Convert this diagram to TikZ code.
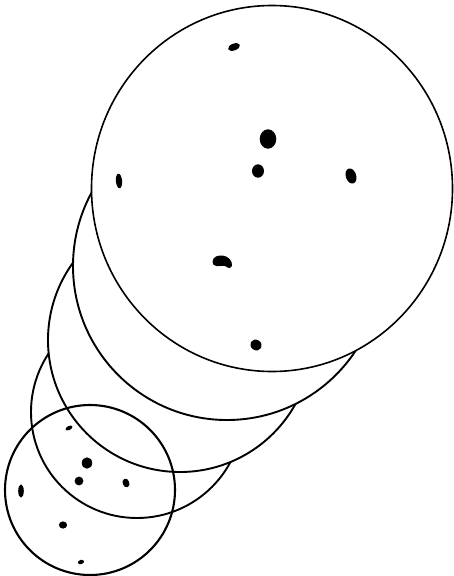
\documentclass[tikz,border=0pt]{standalone}
\begin{document}
\begin{tikzpicture}[x=1pt,y=-1pt,
  ring/.style={draw=black,fill=white,line width=1.9pt},
  spot/.style={fill=black}]
\useasboundingbox (0,0) rectangle (453,576);
% receding rings, back to front
\draw[ring] (137,412) circle[radius=106];
\draw[ring] (180,340) circle[radius=132];
\draw[ring] (227,266) circle[radius=154];
\draw[ring,line width=1.6pt] (272,188.5) ellipse[x radius=180.5,y radius=183];
% spots on the large disc
\fill[spot] (234,47) ellipse[x radius=6.2,y radius=3.4,rotate=20];
\fill[spot] (268,139) ellipse[x radius=8.3,y radius=9.7];
\fill[spot] (258,171) ellipse[x radius=6,y radius=6.7];
\fill[spot] (351,176) ellipse[x radius=5.2,y radius=7.8,rotate=18];
\fill[spot] (119,181) ellipse[x radius=3.1,y radius=7.3,rotate=5];
\fill[spot] (212.5,262) .. controls (212.5,256.5) and (218.5,255) .. (223,255.5)
  .. controls (228.5,256.5) and (232.5,261) .. (232,265.5)
  .. controls (231.5,268.5) and (228,268.5) .. (226,266.5)
  .. controls (223.5,264.8) and (219.5,266.5) .. (216.5,266)
  .. controls (214,265.8) and (212.5,264.5) .. cycle;
\fill[spot] (256,345) ellipse[x radius=5.9,y radius=5.2,rotate=-30];
% small disc, outline only
\draw[line width=2.1pt] (90,490) circle[radius=85];
\fill[spot] (69,428) ellipse[x radius=3.7,y radius=2,rotate=25];
\fill[spot] (87,463) ellipse[x radius=5.2,y radius=5.7];
\fill[spot] (79,481) ellipse[x radius=4.4,y radius=4.4];
\fill[spot] (126,483) ellipse[x radius=3.4,y radius=4.4,rotate=20];
\fill[spot] (21,491) ellipse[x radius=2.8,y radius=6.6];
\fill[spot] (63,525) ellipse[x radius=4.1,y radius=3.6];
\fill[spot] (81,562) ellipse[x radius=3.1,y radius=2.1,rotate=15];
\end{tikzpicture}
\end{document}
